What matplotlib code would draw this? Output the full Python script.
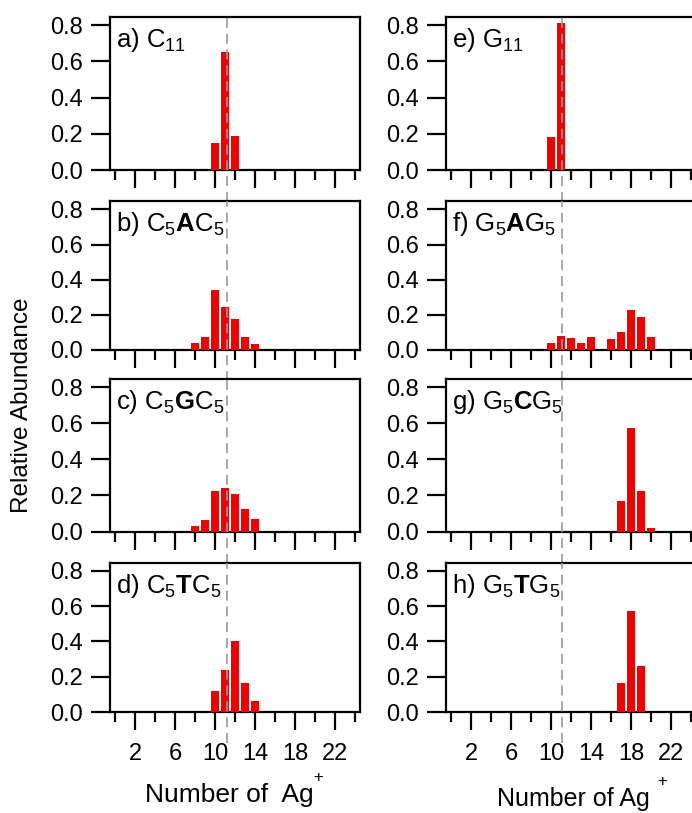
import matplotlib
matplotlib.use('Agg')
import matplotlib.pyplot as plt
import numpy as np

plt.rcParams['font.family'] = ['Liberation Sans', 'DejaVu Sans']
plt.rcParams['mathtext.fontset'] = 'custom'
plt.rcParams['mathtext.rm'] = 'Liberation Sans'
plt.rcParams['mathtext.bf'] = 'Liberation Sans:bold'
plt.rcParams['mathtext.it'] = 'Liberation Sans:italic'

# number of Ag+ and relative abundance, per strand
a_x = [10, 11, 12]
a_y = [0.15, 0.65, 0.19]
b_x = [8, 9, 10, 11, 12, 13, 14]
b_y = [0.042, 0.076, 0.339, 0.242, 0.177, 0.072, 0.032]
c_x = [8, 9, 10, 11, 12, 13, 14]
c_y = [0.032, 0.065, 0.223, 0.242, 0.208, 0.125, 0.071]
d_x = [10, 11, 12, 13, 14]
d_y = [0.12, 0.238, 0.40, 0.162, 0.061]
e_x = [10, 11]
e_y = [0.18, 0.81]
f_x = [10, 11, 12, 13, 14, 16, 17, 18, 19, 20]
f_y = [0.038, 0.081, 0.066, 0.042, 0.075, 0.062, 0.102, 0.23, 0.19, 0.075]
g_x = [17, 18, 19, 20]
g_y = [0.171, 0.573, 0.223, 0.019]
h_x = [17, 18, 19]
h_y = [0.165, 0.572, 0.26]

left_labels = [r'a) $\mathrm{C}_{11}$',
               r'b) $\mathrm{C}_{5}\mathbf{A}\mathrm{C}_{5}$',
               r'c) $\mathrm{C}_{5}\mathbf{G}\mathrm{C}_{5}$',
               r'd) $\mathrm{C}_{5}\mathbf{T}\mathrm{C}_{5}$']
right_labels = [r'e) $\mathrm{G}_{11}$',
                r'f) $\mathrm{G}_{5}\mathbf{A}\mathrm{G}_{5}$',
                r'g) $\mathrm{G}_{5}\mathbf{C}\mathrm{G}_{5}$',
                r'h) $\mathrm{G}_{5}\mathbf{T}\mathrm{G}_{5}$']
left_data = [(a_x, a_y), (b_x, b_y), (c_x, c_y), (d_x, d_y)]
right_data = [(e_x, e_y), (f_x, f_y), (g_x, g_y), (h_x, h_y)]

W, H = 692, 813
fig = plt.figure(figsize=(W / 100, H / 100), dpi=100)

tops = [17, 201.5, 379, 563]
bottoms = [170, 350, 531.5, 712]
col_left = [110, 446]
col_w = 250

for col in range(2):
    data = left_data if col == 0 else right_data
    labels = left_labels if col == 0 else right_labels
    vline = 11.2 if col == 0 else 11.05
    for row in range(4):
        x0 = col_left[col] / W
        y0 = 1 - bottoms[row] / H
        h = (bottoms[row] - tops[row]) / H
        ax = fig.add_axes([x0, y0, col_w / W, h])
        xs, ys = data[row]
        ax.bar(xs, ys, width=0.76, color='#f20000', zorder=3)
        ax.axvline(vline, ymin=-0.21, ymax=1.0, color='#999999', lw=1.2,
                   ls=(0, (6, 3.5)), clip_on=False, zorder=4)
        ax.set_xlim(-0.5, 24.5)
        ax.set_ylim(0, 0.845)
        ax.set_yticks([0.0, 0.2, 0.4, 0.6, 0.8])
        ax.set_yticklabels(['0.0', '0.2', '0.4', '0.6', '0.8'])
        ax.set_xticks([2, 6, 10, 14, 18, 22])
        ax.set_xticks([0, 4, 8, 12, 16, 20, 24], minor=True)
        for s in ax.spines.values():
            s.set_linewidth(1.6)
        ax.tick_params(axis='y', which='major', direction='out', length=13.5,
                       width=1.6, labelsize=17, pad=6)
        ax.tick_params(axis='x', which='major', direction='out', length=13,
                       width=1.6, labelsize=17, pad=9)
        ax.tick_params(axis='x', which='minor', direction='out', length=7,
                       width=1.6)
        if row < 3:
            ax.tick_params(axis='x', labelbottom=False)
        ax.text(0.025, 0.94, labels[row], transform=ax.transAxes,
                fontsize=18.5, va='top', ha='left')

fig.text(22 / W, 1 - 405 / H, 'Relative Abundance', rotation=90,
         fontsize=17.5, ha='center', va='center')
# x labels, with the "+" raised like the original
fig.text(145 / W, 1 - 802 / H, 'Number of  Ag', fontsize=19,
         ha='left', va='baseline')
fig.text(318 / W, 1 - 777 / H, '+', fontsize=12, ha='center', va='center')
fig.text(497 / W, 1 - 806 / H, 'Number of Ag', fontsize=18,
         ha='left', va='baseline')
fig.text(662 / W, 1 - 781 / H, '+', fontsize=12, ha='center', va='center')

fig.savefig('out.png', dpi=100)
